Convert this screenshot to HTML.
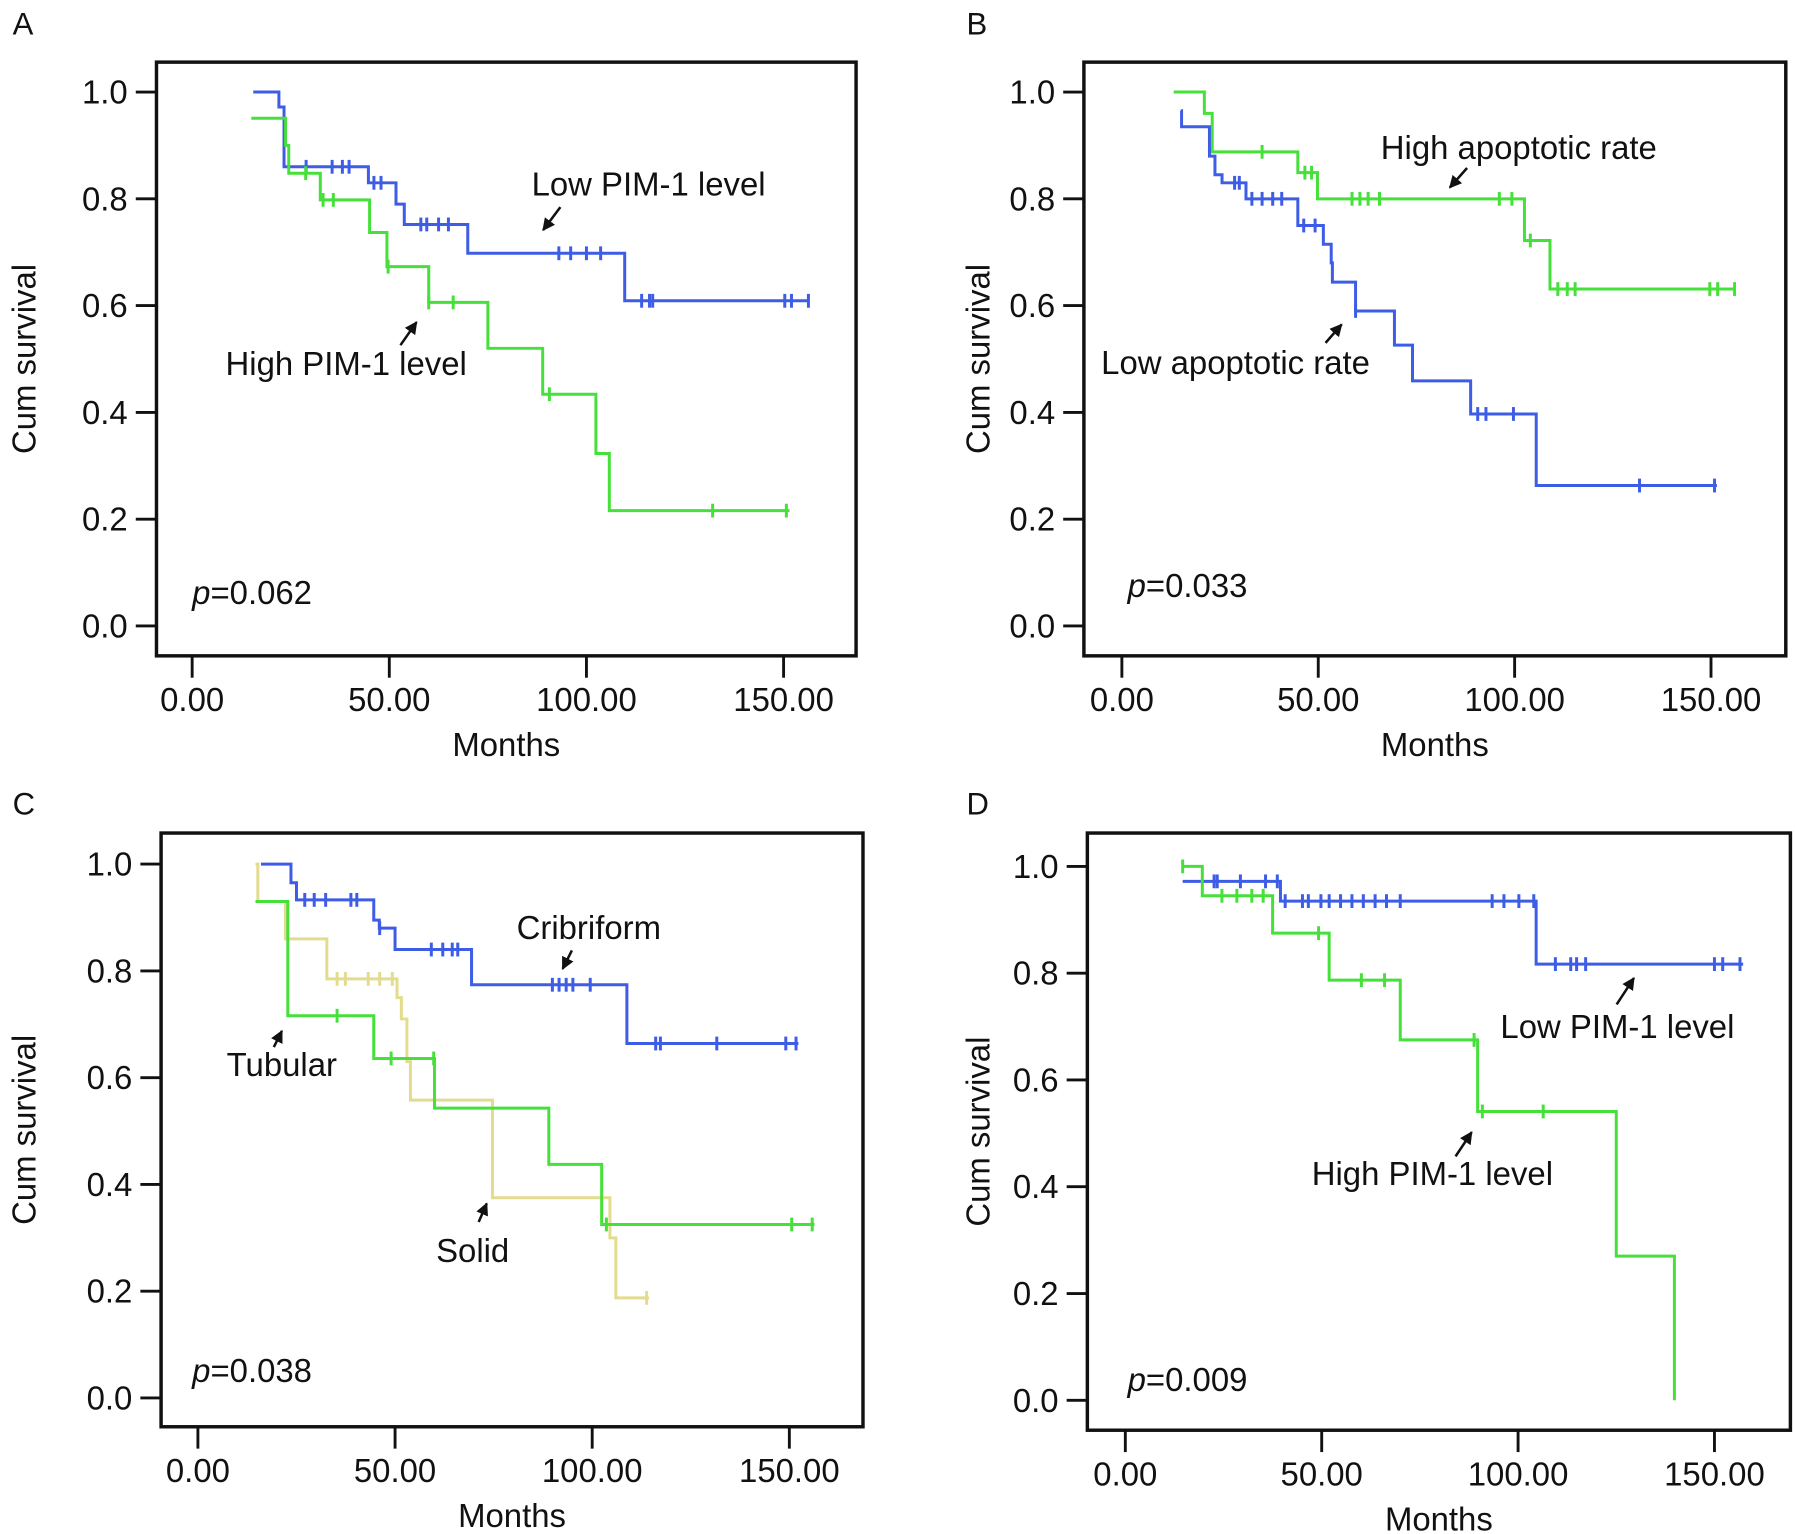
<!DOCTYPE html>
<html><head><meta charset="utf-8"><style>
html,body{margin:0;padding:0;background:#fff;}
svg{display:block;font-family:"Liberation Sans",sans-serif;}
</style></head><body>
<svg id="fig" width="1795" height="1534" viewBox="0 0 1560 1333.2" preserveAspectRatio="none" xmlns="http://www.w3.org/2000/svg"></svg>
<script>
// ---- Data (months, cumulative survival) ----
// Panel A
const aLowTimes = [15.5, 22, 23.3, 44.7, 51.7, 53.8, 69.9, 109.7];
const aLowSurv = [1.0, 0.972, 0.86, 0.83, 0.79, 0.752, 0.698, 0.609];
const aLowCens = [28.9, 35.5, 38.1, 39.8, 46.1, 47.9, 58, 59.5, 62.5, 65, 93, 96, 100, 103.6, 114, 116, 116.8, 150.3, 152, 156.3];
const aLowEnd = 156.3;
const aHighTimes = [15, 23.7, 24.5, 32.5, 45, 49.4, 60, 75, 88.9, 102.4, 105.8];
const aHighSurv = [0.951, 0.90, 0.848, 0.798, 0.737, 0.673, 0.606, 0.52, 0.434, 0.323, 0.216];
const aHighCens = [28.8, 33.2, 35.8, 49.7, 60, 66.2, 90.6, 132, 150.7];
const aHighEnd = 151.5;
// Panel B
const bHighTimes = [13.2, 21, 23, 44.8, 49.8, 102.5, 109];
const bHighSurv = [1.0, 0.96, 0.888, 0.849, 0.80, 0.722, 0.631];
const bHighCens = [35.7, 46.6, 48.3, 58.6, 60.6, 62.7, 65.6, 96.1, 99.3, 104, 111, 113.4, 115.4, 149.7, 151.7, 156];
const bHighEnd = 156;
const bLowTimes = [15, 15.2, 22.3, 23.7, 25.5, 31.6, 44.8, 51.3, 53.3, 53.6, 59.5, 69.4, 74, 88.8, 105.5];
const bLowSurv = [0.965, 0.935, 0.88, 0.845, 0.83, 0.80, 0.75, 0.715, 0.68, 0.644, 0.59, 0.526, 0.459, 0.397, 0.263];
const bLowCens = [28.7, 29.9, 33.1, 35.7, 38.4, 40.7, 46.3, 49.2, 59.5, 90.6, 92.7, 99.7, 131.8, 150.9];
const bLowEnd = 151.5;
// Panel C
const cCribTimes = [16, 23.6, 25, 44.6, 46, 50, 69.4, 108.8];
const cCribSurv = [1.0, 0.965, 0.933, 0.895, 0.88, 0.84, 0.774, 0.664];
const cCribCens = [27.1, 29.5, 32.4, 38.8, 40.3, 46.1, 59.2, 62.1, 64.5, 65.9, 89.9, 91.6, 93.4, 95.1, 99.5, 116.1, 117.3, 131.6, 149.1, 151.7];
const cCribEnd = 152.3;
const cSolidTimes = [14.6, 15.2, 22.2, 32.7, 50.5, 51.6, 53, 53.9, 74.7, 104.5, 106];
const cSolidSurv = [1.0, 0.93, 0.86, 0.785, 0.75, 0.71, 0.63, 0.558, 0.375, 0.30, 0.1875];
const cSolidCens = [35.3, 37.4, 43.2, 46.1, 49.3, 113.8];
const cSolidEnd = 114.4;
const cTubTimes = [14.6, 22.8, 44.6, 60, 89, 102.4];
const cTubSurv = [0.93, 0.716, 0.636, 0.543, 0.4375, 0.325];
const cTubCens = [35.3, 49, 59.8, 103.6, 150.6, 155.8];
const cTubEnd = 156.4;
// Panel D
const dLowTimes = [14.6, 39.5, 104.6];
const dLowSurv = [0.972, 0.935, 0.817];
const dLowCens = [22.6, 23.4, 29.3, 35.7, 38.7, 40.7, 45.1, 46.6, 49.8, 51.9, 54.8, 57.7, 60.6, 63.6, 66.5, 70, 93.4, 96.4, 100.2, 104, 109.5, 113.4, 114.9, 117.2, 150, 152.1, 156.5];
const dLowEnd = 157.3;
const dHighTimes = [14.6, 19.6, 37.5, 51.9, 70, 89.7, 125, 139.8];
const dHighSurv = [1.0, 0.945, 0.875, 0.787, 0.675, 0.541, 0.27, 0.0];
const dHighCens = [14.6, 24.6, 28.4, 32.2, 35.1, 49.2, 60.1, 66, 88.8, 90.9, 106.4];
const dHighEnd = 139.8;

const yTicks = [0, 0.2, 0.4, 0.6, 0.8, 1.0];
const yTickLabels = ["0.0", "0.2", "0.4", "0.6", "0.8", "1.0"];
const xTicks = [0, 50, 100, 150];
const xTickLabels = ["0.00", "50.00", "100.00", "150.00"];

const BLUE = "#3d5de6", GREEN = "#46e03a", TAN = "#e3dc8e";
const FS = 28.6;
const NS = "http://www.w3.org/2000/svg";
const svg = document.getElementById('fig');

function mk(tag, attrs, parent) {
  const e = document.createElementNS(NS, tag);
  for (const k in attrs) e.setAttribute(k, attrs[k]);
  (parent || svg).appendChild(e);
  return e;
}

const panels = [
  {id:'a', letter:'A', lx:11, ly:30, fx0:136, fx1:744, fy0:54, fy1:570, x0:167, x150:681, y1:80, y0:544, p:'0.062', px:167, py:525,
   series:[{n:'low-pim1', t:aLowTimes, s:aLowSurv, c:aLowCens, e:aLowEnd, col:BLUE},
           {n:'high-pim1', t:aHighTimes, s:aHighSurv, c:aHighCens, e:aHighEnd, col:GREEN}],
   notes:[{txt:'Low PIM-1 level', x:462, y:170, ax1:487, ay1:180, ax2:472, ay2:200},
          {txt:'High PIM-1 level', x:196, y:326, ax1:348, ay1:300, ax2:362, ay2:280}]},
  {id:'b', letter:'B', lx:840, ly:30, fx0:942, fx1:1552, fy0:54, fy1:570, x0:975, x150:1487, y1:80, y0:544, p:'0.033', px:980, py:519,
   series:[{n:'high-apoptotic', t:bHighTimes, s:bHighSurv, c:bHighCens, e:bHighEnd, col:GREEN},
           {n:'low-apoptotic', t:bLowTimes, s:bLowSurv, c:bLowCens, e:bLowEnd, col:BLUE}],
   notes:[{txt:'High apoptotic rate', x:1200, y:138, ax1:1275, ay1:146, ax2:1260, ay2:163},
          {txt:'Low apoptotic rate', x:957, y:325, ax1:1152, ay1:298, ax2:1166, ay2:282}]},
  {id:'c', letter:'C', lx:11, ly:708, fx0:140, fx1:750, fy0:724, fy1:1240, x0:172, x150:686, y1:751, y0:1215, p:'0.038', px:167, py:1201,
   series:[{n:'solid', t:cSolidTimes, s:cSolidSurv, c:cSolidCens, e:cSolidEnd, col:TAN},
           {n:'tubular', t:cTubTimes, s:cTubSurv, c:cTubCens, e:cTubEnd, col:GREEN},
           {n:'cribriform', t:cCribTimes, s:cCribSurv, c:cCribCens, e:cCribEnd, col:BLUE}],
   notes:[{txt:'Cribriform', x:449, y:816, ax1:497, ay1:826, ax2:489, ay2:842},
          {txt:'Tubular', x:197, y:935, ax1:238, ay1:910, ax2:245, ay2:896},
          {txt:'Solid', x:379, y:1097, ax1:416, ay1:1062, ax2:423, ay2:1046}]},
  {id:'d', letter:'D', lx:840, ly:708, fx0:945, fx1:1556, fy0:724, fy1:1243, x0:978, x150:1490, y1:753, y0:1217, p:'0.009', px:980, py:1209,
   series:[{n:'low-pim1', t:dLowTimes, s:dLowSurv, c:dLowCens, e:dLowEnd, col:BLUE},
           {n:'high-pim1', t:dHighTimes, s:dHighSurv, c:dHighCens, e:dHighEnd, col:GREEN}],
   notes:[{txt:'Low PIM-1 level', x:1304, y:902, ax1:1405, ay1:873, ax2:1420, ay2:850},
          {txt:'High PIM-1 level', x:1140, y:1030, ax1:1265, ay1:1005, ax2:1279, ay2:984}]}
];

const defs = mk('defs', {});
const mrk = mk('marker', {id:'ah', viewBox:'0 0 10 10', refX:'9', refY:'5', markerWidth:'5', markerHeight:'5', orient:'auto'}, defs);
mk('path', {d:'M0,0 L10,5 L0,10 z', fill:'#111'}, mrk);

function stepVal(times, surv, t) {
  let v = surv[0];
  for (let i = 0; i < times.length; i++) if (times[i] <= t) v = surv[i];
  return v;
}

panels.forEach(P => {
  const g = mk('g', {});
  
  
  const X = m => P.x0 + (P.x150 - P.x0) * m / 150;
  const Y = s => P.y0 - (P.y0 - P.y1) * s;

  const lt = mk('text', {x:P.lx, y:P.ly, 'font-size':27, fill:'#111'}, g);
  lt.textContent = P.letter;
  
  

  const fr = mk('rect', {x:P.fx0, y:P.fy0, width:P.fx1-P.fx0, height:P.fy1-P.fy0, fill:'none', stroke:'#111', 'stroke-width':3}, g);
  
  

  const ya = mk('g', {}, g);
  
  
  yTicks.forEach((v, i) => {
    mk('line', {x1:P.fx0-18, x2:P.fx0, y1:Y(v), y2:Y(v), stroke:'#111', 'stroke-width':2.5}, ya);
    const t = mk('text', {x:P.fx0-25, y:Y(v)+10, 'font-size':FS, 'text-anchor':'end', fill:'#111'}, ya);
    t.textContent = yTickLabels[i];
    
    
  });
  const xa = mk('g', {}, g);
  
  
  xTicks.forEach((v, i) => {
    mk('line', {x1:X(v), x2:X(v), y1:P.fy1, y2:P.fy1+19, stroke:'#111', 'stroke-width':2.5}, xa);
    const t = mk('text', {x:X(v), y:P.fy1+48, 'font-size':FS, 'text-anchor':'middle', fill:'#111'}, xa);
    t.textContent = xTickLabels[i];
    
    
  });
  const xt = mk('text', {x:(P.fx0+P.fx1)/2, y:P.fy1+87, 'font-size':FS, 'text-anchor':'middle', fill:'#111'}, g);
  xt.textContent = 'Months';
  
  
  const cy = (P.fy0+P.fy1)/2;
  const yt = mk('text', {x:0, y:0, 'font-size':FS, 'text-anchor':'middle', fill:'#111', transform:'translate(31,'+cy+') rotate(-90)'}, g);
  if (P.id === 'b' || P.id === 'd') yt.setAttribute('transform', 'translate(860,'+cy+') rotate(-90)');
  yt.textContent = 'Cum survival';
  
  

  P.series.forEach(S => {
    let d = 'M' + X(S.t[0]) + ',' + Y(S.s[0]);
    for (let i = 1; i < S.t.length; i++) {
      d += ' H' + X(S.t[i]) + ' V' + Y(S.s[i]);
    }
    d += ' H' + X(S.e);
    const p = mk('path', {d:d, fill:'none', stroke:S.col, 'stroke-width':2.6}, g);
    
    
    S.c.forEach(ct => {
      const yy = Y(stepVal(S.t, S.s, ct));
      const cm = mk('line', {x1:X(ct), x2:X(ct), y1:yy-6, y2:yy+6, stroke:S.col, 'stroke-width':2.6}, g);
      
      
    });
  });

  P.notes.forEach(N => {
    const t = mk('text', {x:N.x, y:N.y, 'font-size':FS, fill:'#111'}, g);
    t.textContent = N.txt;
    
    
    const a = mk('line', {x1:N.ax1, y1:N.ay1, x2:N.ax2, y2:N.ay2, stroke:'#111', 'stroke-width':2.2, 'marker-end':'url(#ah)'}, g);
    
    
  });

  const pt = mk('text', {x:P.px, y:P.py, 'font-size':FS, fill:'#111'}, g);
  
  
  const ts = mk('tspan', {'font-style':'italic'}, pt);
  ts.textContent = 'p';
  const ts2 = mk('tspan', {}, pt);
  ts2.textContent = '=' + P.p;
});
</script>
</body></html>
